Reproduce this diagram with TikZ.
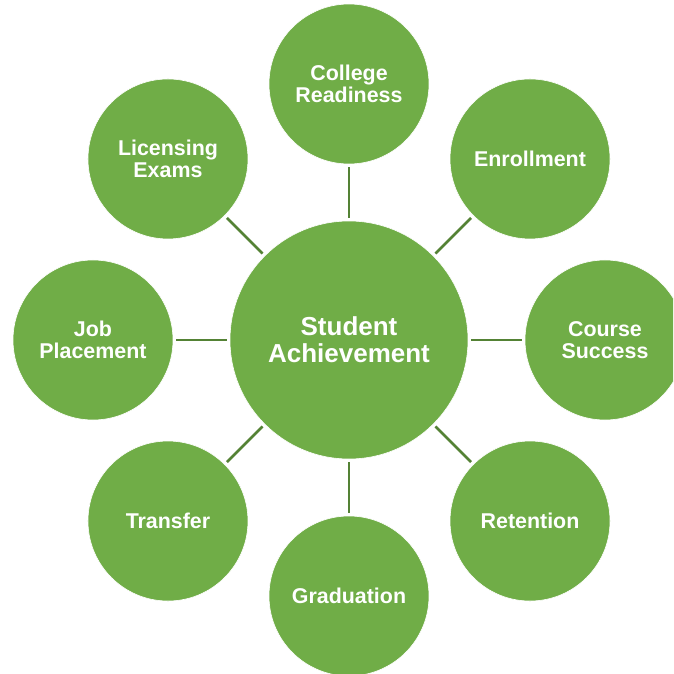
\documentclass[tikz,border=0pt]{standalone}
\usepackage{fontspec}
\setmainfont{Liberation Sans}
\definecolor{leaf}{HTML}{70AD47}
\definecolor{stem}{HTML}{548235}
\tikzset{
    petal/.style={circle, fill=leaf, draw=white, line width=0.6pt, minimum size=160pt,
        inner sep=0pt, text=white, align=center,
        font=\fontsize{21.4pt}{22pt}\selectfont\bfseries},
    hubnode/.style={petal, minimum size=238pt,
        font=\fontsize{26pt}{27pt}\selectfont\bfseries},
    link/.style={draw=stem, line width=2.5pt, shorten >=3pt, shorten <=3pt}
}
\begin{document}
\begin{tikzpicture}[x=1pt, y=1pt]
    \clip (-349, -334) rectangle (324, 340);

    \node[hubnode] (hub) at (0, 0) {Student\\Achievement};

    \foreach \ang/\nm/\txt in {90/ready/{College\\Readiness}, 45/enroll/{Enrollment},
        0/course/{Course\\Success}, -45/retain/{Retention}, -90/grad/{Graduation},
        -135/transfer/{Transfer}, 180/job/{Job\\Placement}, 135/license/{Licensing\\Exams}} {
        \node[petal] (\nm) at (\ang:256) {\txt};
        \draw[link] (hub) -- (\nm);
    }
\end{tikzpicture}
\end{document}
